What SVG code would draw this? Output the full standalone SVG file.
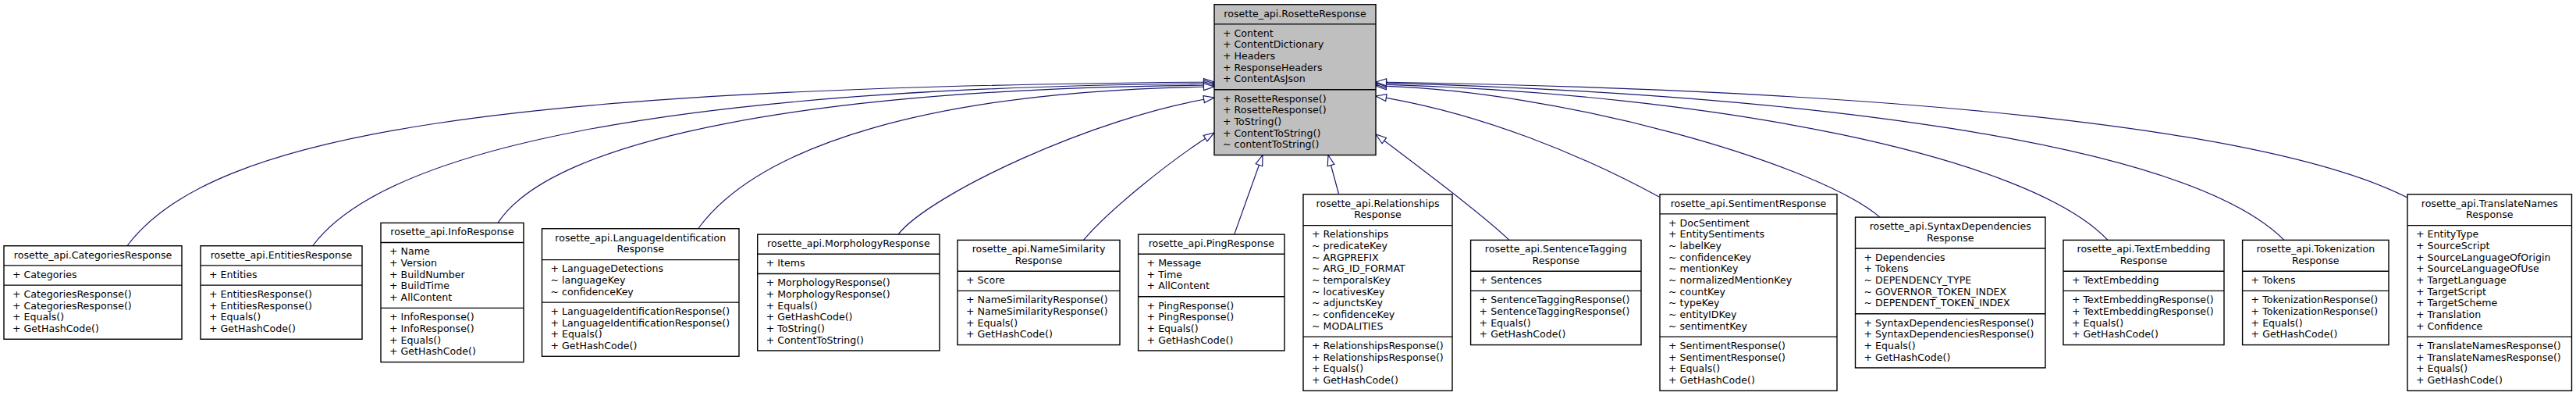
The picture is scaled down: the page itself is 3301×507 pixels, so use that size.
<svg xmlns="http://www.w3.org/2000/svg" width="3301" height="507" viewBox="0 0 3301 507">
<style>
.bx{fill:#fff;stroke:#000;stroke-width:1.4}
.root{fill:#bfbfbf}
.dv{stroke:#000;stroke-width:1.4}
text{font-family:"DejaVu Sans","Liberation Sans",sans-serif;font-size:12.6px;fill:#000}
.c{text-anchor:middle}
.e{fill:none;stroke:#191970;stroke-width:1.2;marker-end:url(#tri)}
</style>
<defs>
<marker id="tri" markerUnits="userSpaceOnUse" markerWidth="16" markerHeight="12" refX="14" refY="5" orient="auto" overflow="visible">
<path d="M0.5,0.5 L14,5 L0.5,9.5 Z" fill="#fff" stroke="#191970" stroke-width="1.2"/>
</marker>
</defs>
<rect width="3301" height="507" fill="#fff"/>
<g id="connectors">
<path class="e" d="M163,314.75 C271,170 642,112 1556,105"/>
<path class="e" d="M400.7,314.75 C490,194 842,112 1556,107"/>
<path class="e" d="M638,285.4 C709,177 1042,113 1556,109"/>
<path class="e" d="M894.6,292.75 C972,187 1192,116 1556,111"/>
<path class="e" d="M1151,300.1 C1190,250 1400,150 1556,125"/>
<path class="e" d="M1388.5,307.4 C1420,270 1500,205 1556,170"/>
<path class="e" d="M1581.7,300.1 L1618,198.5"/>
<path class="e" d="M1715.6,248.75 L1702,198.5"/>
<path class="e" d="M1934,307.4 C1900,275 1820,215 1763,172"/>
<path class="e" d="M2126,252 C2030,200 1900,145 1763,123"/>
<path class="e" d="M2409,278.1 C2330,210 2000,115 1763,110"/>
<path class="e" d="M2701,307.4 C2600,200 2200,120 1763,108"/>
<path class="e" d="M2927,307.4 C2800,180 2300,120 1763,106"/>
<path class="e" d="M3085,253 C2900,160 2400,115 1763,105"/>
</g>
<g id="node-rosette">
<rect class="bx root" x="1556" y="5.7" width="207" height="192.83"/>
<line class="dv" x1="1556" y1="30.87" x2="1763" y2="30.87"/>
<line class="dv" x1="1556" y1="114.7" x2="1763" y2="114.7"/>
<text class="c" x="1659.5" y="21.5">rosette_api.RosetteResponse</text>
<text x="1567" y="46.67">+ Content</text>
<text x="1567" y="61.33">+ ContentDictionary</text>
<text x="1567" y="76">+ Headers</text>
<text x="1567" y="90.67">+ ResponseHeaders</text>
<text x="1567" y="105.33">+ ContentAsJson</text>
<text x="1567" y="130.5">+ RosetteResponse()</text>
<text x="1567" y="145.17">+ RosetteResponse()</text>
<text x="1567" y="159.83">+ ToString()</text>
<text x="1567" y="174.5">+ ContentToString()</text>
<text x="1567" y="189.17">~ contentToString()</text>
</g>
<g id="node-categories">
<rect class="bx" x="5" y="314.75" width="228" height="119.5"/>
<line class="dv" x1="5" y1="339.92" x2="233" y2="339.92"/>
<line class="dv" x1="5" y1="365.08" x2="233" y2="365.08"/>
<text class="c" x="119" y="330.55">rosette_api.CategoriesResponse</text>
<text x="16" y="355.72">+ Categories</text>
<text x="16" y="380.88">+ CategoriesResponse()</text>
<text x="16" y="395.55">+ CategoriesResponse()</text>
<text x="16" y="410.22">+ Equals()</text>
<text x="16" y="424.88">+ GetHashCode()</text>
</g>
<g id="node-entities">
<rect class="bx" x="257" y="314.75" width="207" height="119.5"/>
<line class="dv" x1="257" y1="339.92" x2="464" y2="339.92"/>
<line class="dv" x1="257" y1="365.08" x2="464" y2="365.08"/>
<text class="c" x="360.5" y="330.55">rosette_api.EntitiesResponse</text>
<text x="268" y="355.72">+ Entities</text>
<text x="268" y="380.88">+ EntitiesResponse()</text>
<text x="268" y="395.55">+ EntitiesResponse()</text>
<text x="268" y="410.22">+ Equals()</text>
<text x="268" y="424.88">+ GetHashCode()</text>
</g>
<g id="node-info">
<rect class="bx" x="488" y="285.4" width="183" height="178.17"/>
<line class="dv" x1="488" y1="310.57" x2="671" y2="310.57"/>
<line class="dv" x1="488" y1="394.4" x2="671" y2="394.4"/>
<text class="c" x="579.5" y="301.2">rosette_api.InfoResponse</text>
<text x="499" y="326.37">+ Name</text>
<text x="499" y="341.03">+ Version</text>
<text x="499" y="355.7">+ BuildNumber</text>
<text x="499" y="370.37">+ BuildTime</text>
<text x="499" y="385.03">+ AllContent</text>
<text x="499" y="410.2">+ InfoResponse()</text>
<text x="499" y="424.87">+ InfoResponse()</text>
<text x="499" y="439.53">+ Equals()</text>
<text x="499" y="454.2">+ GetHashCode()</text>
</g>
<g id="node-languageidentification">
<rect class="bx" x="694.5" y="292.75" width="252.5" height="163.5"/>
<line class="dv" x1="694.5" y1="332.58" x2="947" y2="332.58"/>
<line class="dv" x1="694.5" y1="387.08" x2="947" y2="387.08"/>
<text class="c" x="820.75" y="308.55">rosette_api.LanguageIdentification</text>
<text class="c" x="820.75" y="323.22">Response</text>
<text x="705.5" y="348.38">+ LanguageDetections</text>
<text x="705.5" y="363.05">~ languageKey</text>
<text x="705.5" y="377.72">~ confidenceKey</text>
<text x="705.5" y="402.88">+ LanguageIdentificationResponse()</text>
<text x="705.5" y="417.55">+ LanguageIdentificationResponse()</text>
<text x="705.5" y="432.22">+ Equals()</text>
<text x="705.5" y="446.88">+ GetHashCode()</text>
</g>
<g id="node-morphology">
<rect class="bx" x="970.7" y="300.1" width="233.3" height="148.83"/>
<line class="dv" x1="970.7" y1="325.27" x2="1204" y2="325.27"/>
<line class="dv" x1="970.7" y1="350.43" x2="1204" y2="350.43"/>
<text class="c" x="1087.35" y="315.9">rosette_api.MorphologyResponse</text>
<text x="981.7" y="341.07">+ Items</text>
<text x="981.7" y="366.23">+ MorphologyResponse()</text>
<text x="981.7" y="380.9">+ MorphologyResponse()</text>
<text x="981.7" y="395.57">+ Equals()</text>
<text x="981.7" y="410.23">+ GetHashCode()</text>
<text x="981.7" y="424.9">+ ToString()</text>
<text x="981.7" y="439.57">+ ContentToString()</text>
</g>
<g id="node-namesimilarity">
<rect class="bx" x="1227" y="307.4" width="208" height="134.17"/>
<line class="dv" x1="1227" y1="347.23" x2="1435" y2="347.23"/>
<line class="dv" x1="1227" y1="372.4" x2="1435" y2="372.4"/>
<text class="c" x="1331" y="323.2">rosette_api.NameSimilarity</text>
<text class="c" x="1331" y="337.87">Response</text>
<text x="1238" y="363.03">+ Score</text>
<text x="1238" y="388.2">+ NameSimilarityResponse()</text>
<text x="1238" y="402.87">+ NameSimilarityResponse()</text>
<text x="1238" y="417.53">+ Equals()</text>
<text x="1238" y="432.2">+ GetHashCode()</text>
</g>
<g id="node-ping">
<rect class="bx" x="1458.6" y="300.1" width="187.4" height="148.83"/>
<line class="dv" x1="1458.6" y1="325.27" x2="1646" y2="325.27"/>
<line class="dv" x1="1458.6" y1="379.77" x2="1646" y2="379.77"/>
<text class="c" x="1552.3" y="315.9">rosette_api.PingResponse</text>
<text x="1469.6" y="341.07">+ Message</text>
<text x="1469.6" y="355.73">+ Time</text>
<text x="1469.6" y="370.4">+ AllContent</text>
<text x="1469.6" y="395.57">+ PingResponse()</text>
<text x="1469.6" y="410.23">+ PingResponse()</text>
<text x="1469.6" y="424.9">+ Equals()</text>
<text x="1469.6" y="439.57">+ GetHashCode()</text>
</g>
<g id="node-relationships">
<rect class="bx" x="1670" y="248.75" width="191" height="251.5"/>
<line class="dv" x1="1670" y1="288.58" x2="1861" y2="288.58"/>
<line class="dv" x1="1670" y1="431.08" x2="1861" y2="431.08"/>
<text class="c" x="1765.5" y="264.55">rosette_api.Relationships</text>
<text class="c" x="1765.5" y="279.22">Response</text>
<text x="1681" y="304.38">+ Relationships</text>
<text x="1681" y="319.05">~ predicateKey</text>
<text x="1681" y="333.72">~ ARGPREFIX</text>
<text x="1681" y="348.38">~ ARG_ID_FORMAT</text>
<text x="1681" y="363.05">~ temporalsKey</text>
<text x="1681" y="377.72">~ locativesKey</text>
<text x="1681" y="392.38">~ adjunctsKey</text>
<text x="1681" y="407.05">~ confidenceKey</text>
<text x="1681" y="421.72">~ MODALITIES</text>
<text x="1681" y="446.88">+ RelationshipsResponse()</text>
<text x="1681" y="461.55">+ RelationshipsResponse()</text>
<text x="1681" y="476.22">+ Equals()</text>
<text x="1681" y="490.88">+ GetHashCode()</text>
</g>
<g id="node-sentencetagging">
<rect class="bx" x="1884.6" y="307.4" width="218.4" height="134.17"/>
<line class="dv" x1="1884.6" y1="347.23" x2="2103" y2="347.23"/>
<line class="dv" x1="1884.6" y1="372.4" x2="2103" y2="372.4"/>
<text class="c" x="1993.8" y="323.2">rosette_api.SentenceTagging</text>
<text class="c" x="1993.8" y="337.87">Response</text>
<text x="1895.6" y="363.03">+ Sentences</text>
<text x="1895.6" y="388.2">+ SentenceTaggingResponse()</text>
<text x="1895.6" y="402.87">+ SentenceTaggingResponse()</text>
<text x="1895.6" y="417.53">+ Equals()</text>
<text x="1895.6" y="432.2">+ GetHashCode()</text>
</g>
<g id="node-sentiment">
<rect class="bx" x="2127" y="248.75" width="227" height="251.5"/>
<line class="dv" x1="2127" y1="273.92" x2="2354" y2="273.92"/>
<line class="dv" x1="2127" y1="431.08" x2="2354" y2="431.08"/>
<text class="c" x="2240.5" y="264.55">rosette_api.SentimentResponse</text>
<text x="2138" y="289.72">+ DocSentiment</text>
<text x="2138" y="304.38">+ EntitySentiments</text>
<text x="2138" y="319.05">~ labelKey</text>
<text x="2138" y="333.72">~ confidenceKey</text>
<text x="2138" y="348.38">~ mentionKey</text>
<text x="2138" y="363.05">~ normalizedMentionKey</text>
<text x="2138" y="377.72">~ countKey</text>
<text x="2138" y="392.38">~ typeKey</text>
<text x="2138" y="407.05">~ entityIDKey</text>
<text x="2138" y="421.72">~ sentimentKey</text>
<text x="2138" y="446.88">+ SentimentResponse()</text>
<text x="2138" y="461.55">+ SentimentResponse()</text>
<text x="2138" y="476.22">+ Equals()</text>
<text x="2138" y="490.88">+ GetHashCode()</text>
</g>
<g id="node-syntaxdependencies">
<rect class="bx" x="2377.5" y="278.1" width="243.5" height="192.83"/>
<line class="dv" x1="2377.5" y1="317.93" x2="2621" y2="317.93"/>
<line class="dv" x1="2377.5" y1="401.77" x2="2621" y2="401.77"/>
<text class="c" x="2499.25" y="293.9">rosette_api.SyntaxDependencies</text>
<text class="c" x="2499.25" y="308.57">Response</text>
<text x="2388.5" y="333.73">+ Dependencies</text>
<text x="2388.5" y="348.4">+ Tokens</text>
<text x="2388.5" y="363.07">~ DEPENDENCY_TYPE</text>
<text x="2388.5" y="377.73">~ GOVERNOR_TOKEN_INDEX</text>
<text x="2388.5" y="392.4">~ DEPENDENT_TOKEN_INDEX</text>
<text x="2388.5" y="417.57">+ SyntaxDependenciesResponse()</text>
<text x="2388.5" y="432.23">+ SyntaxDependenciesResponse()</text>
<text x="2388.5" y="446.9">+ Equals()</text>
<text x="2388.5" y="461.57">+ GetHashCode()</text>
</g>
<g id="node-textembedding">
<rect class="bx" x="2644" y="307.4" width="206" height="134.17"/>
<line class="dv" x1="2644" y1="347.23" x2="2850" y2="347.23"/>
<line class="dv" x1="2644" y1="372.4" x2="2850" y2="372.4"/>
<text class="c" x="2747" y="323.2">rosette_api.TextEmbedding</text>
<text class="c" x="2747" y="337.87">Response</text>
<text x="2655" y="363.03">+ TextEmbedding</text>
<text x="2655" y="388.2">+ TextEmbeddingResponse()</text>
<text x="2655" y="402.87">+ TextEmbeddingResponse()</text>
<text x="2655" y="417.53">+ Equals()</text>
<text x="2655" y="432.2">+ GetHashCode()</text>
</g>
<g id="node-tokenization">
<rect class="bx" x="2873.6" y="307.4" width="187.4" height="134.17"/>
<line class="dv" x1="2873.6" y1="347.23" x2="3061" y2="347.23"/>
<line class="dv" x1="2873.6" y1="372.4" x2="3061" y2="372.4"/>
<text class="c" x="2967.3" y="323.2">rosette_api.Tokenization</text>
<text class="c" x="2967.3" y="337.87">Response</text>
<text x="2884.6" y="363.03">+ Tokens</text>
<text x="2884.6" y="388.2">+ TokenizationResponse()</text>
<text x="2884.6" y="402.87">+ TokenizationResponse()</text>
<text x="2884.6" y="417.53">+ Equals()</text>
<text x="2884.6" y="432.2">+ GetHashCode()</text>
</g>
<g id="node-translatenames">
<rect class="bx" x="3085" y="248.75" width="210.5" height="251.5"/>
<line class="dv" x1="3085" y1="288.58" x2="3295.5" y2="288.58"/>
<line class="dv" x1="3085" y1="431.08" x2="3295.5" y2="431.08"/>
<text class="c" x="3190.25" y="264.55">rosette_api.TranslateNames</text>
<text class="c" x="3190.25" y="279.22">Response</text>
<text x="3096" y="304.38">+ EntityType</text>
<text x="3096" y="319.05">+ SourceScript</text>
<text x="3096" y="333.72">+ SourceLanguageOfOrigin</text>
<text x="3096" y="348.38">+ SourceLanguageOfUse</text>
<text x="3096" y="363.05">+ TargetLanguage</text>
<text x="3096" y="377.72">+ TargetScript</text>
<text x="3096" y="392.38">+ TargetScheme</text>
<text x="3096" y="407.05">+ Translation</text>
<text x="3096" y="421.72">+ Confidence</text>
<text x="3096" y="446.88">+ TranslateNamesResponse()</text>
<text x="3096" y="461.55">+ TranslateNamesResponse()</text>
<text x="3096" y="476.22">+ Equals()</text>
<text x="3096" y="490.88">+ GetHashCode()</text>
</g>
</svg>
